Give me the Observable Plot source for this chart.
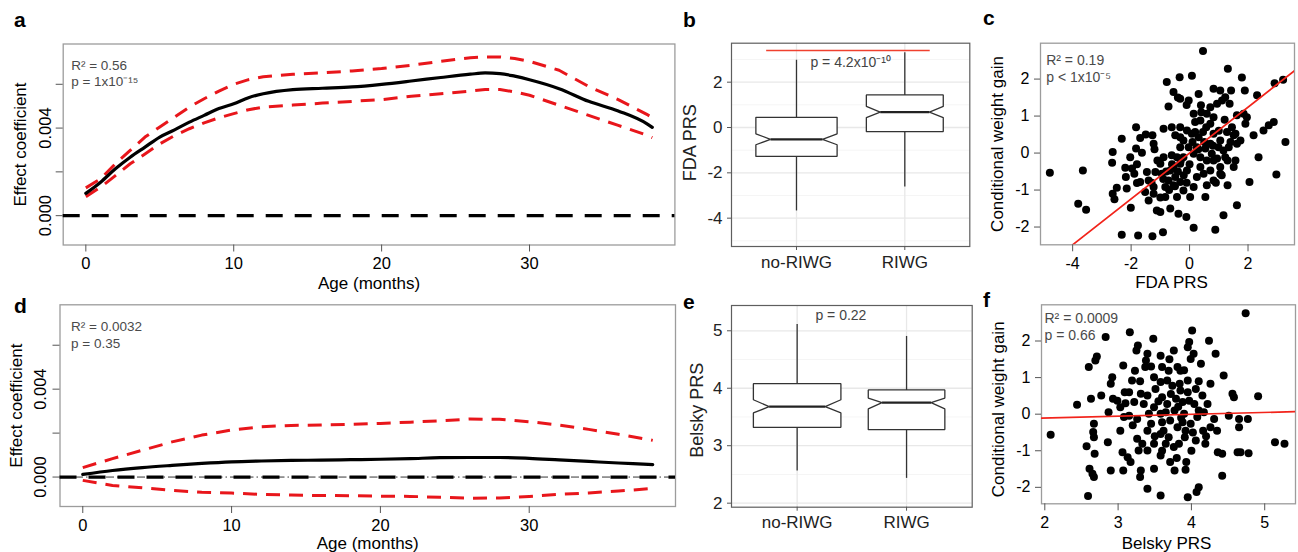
<!DOCTYPE html>
<html><head><meta charset="utf-8">
<script src="https://cdn.jsdelivr.net/npm/d3@7"></script>
<script src="https://cdn.jsdelivr.net/npm/@observablehq/plot@0.6"></script>
<style>
html,body{margin:0;padding:0;background:#fff;}
#fig{position:relative;width:1298px;height:552px;overflow:hidden;}
#fig svg{position:absolute;left:0;top:0;}
</style></head><body><div id="fig"></div>
<script>
// ---------- Panel a: FDA PRS effect over age ----------
const ageA   = [0,1,2,3,4,5,6,7,8,9,10,11,12,14,16,18,20,22,24,26,27,28,29,30,32,34,36,38,38.3];
const fitA   = [0.00102,0.00153,0.00214,0.00267,0.00313,0.00359,0.00392,0.00427,0.00458,0.00489,0.00511,0.00539,0.00557,0.00576,0.00582,0.00588,0.00600,0.00615,0.00631,0.00646,0.00652,0.00649,0.00637,0.00621,0.00580,0.00522,0.00478,0.00417,0.00403];
const upperA = [0.00127,0.00168,0.00237,0.00298,0.00359,0.00405,0.00450,0.00496,0.00534,0.00569,0.00600,0.00621,0.00634,0.00646,0.00652,0.00661,0.00672,0.00687,0.00705,0.00721,0.00725,0.00725,0.00718,0.00705,0.00664,0.00590,0.00530,0.00460,0.00448];
const lowerA = [0.00087,0.00130,0.00183,0.00237,0.00282,0.00328,0.00366,0.00397,0.00424,0.00447,0.00466,0.00484,0.00496,0.00505,0.00514,0.00522,0.00530,0.00545,0.00557,0.00569,0.00576,0.00576,0.00565,0.00550,0.00504,0.00458,0.00412,0.00366,0.00356];
const statsA = ["R² = 0.56", "p = 1x10⁻¹⁵"];

// ---------- Panel d: Belsky PRS effect over age ----------
const ageD   = [0,2,4,6,8,10,12,14,16,18,20,22,24,26,28,30,32,34,36,38,38.3];
const fitD   = [0.00012,0.00030,0.00043,0.00053,0.00062,0.00069,0.00073,0.00076,0.00077,0.00079,0.00081,0.00084,0.00088,0.00089,0.00089,0.00085,0.00078,0.00071,0.00064,0.00058,0.00057];
const upperD = [0.00043,0.00084,0.00122,0.00160,0.00191,0.00214,0.00229,0.00235,0.00237,0.00240,0.00244,0.00250,0.00256,0.00264,0.00263,0.00252,0.00237,0.00217,0.00195,0.00171,0.00167];
const lowerD = [-0.00015,-0.00038,-0.00049,-0.00061,-0.00069,-0.00073,-0.00079,-0.00082,-0.00084,-0.00085,-0.00087,-0.00088,-0.00092,-0.00096,-0.00095,-0.00088,-0.00079,-0.00072,-0.00064,-0.00053,-0.00052];
const statsD = ["R² = 0.0032", "p = 0.35"];

const ageDomain = [-1.53, 39.83];
const effDomain = [-0.00134, 0.00784];
const ageTicks = [0, 10, 20, 30];
const effTicks = [0, 0.002, 0.004, 0.006];
const effLabels = [0, 0.004];

// ---------- Panels b, e: box plots ----------
const groups = ["no-RIWG", "RIWG"];
const fdaMin = [-3.66, -2.60];
const fdaQ1  = [-1.27, -0.18];
const fdaNotchLo = [-0.76, 0.44];
const fdaMed = [-0.52, 0.68];
const fdaNotchHi = [-0.28, 0.93];
const fdaQ3  = [0.45, 1.44];
const fdaMax = [2.99, 3.32];
const fdaSigX = [0.72, 2.23];
const fdaSigY = 3.40;
const fdaP = "p = 4.2x10⁻¹⁰";

const belMin = [2.57, 2.44];
const belQ1  = [3.32, 3.28];
const belNotchLo = [3.57, 3.64];
const belMed = [3.68, 3.75];
const belNotchHi = [3.80, 3.83];
const belQ3  = [4.08, 3.97];
const belMax = [5.12, 4.91];
const belP = "p = 0.22";

// ---------- Panel c: FDA PRS vs conditional weight gain ----------
const cX = [-4.78,-3.65,-3.81,-3.54,-2.32,-2.63,-2.65,-2.63,-2.49,-2.57,
-2.32,-2.18,-2.01,-1.83,-1.83,-2.03,-1.97,-1.89,-1.69,-1.63,
-2.15,-1.80,-1.76,-1.46,-1.40,-1.27,-0.91,-1.27,-1.23,-0.89,
-0.78,-0.72,-0.61,-0.32,-0.49,-0.32,-0.89,-1.00,-0.95,-1.40,
-1.23,-1.12,-1.00,-0.66,-0.38,-0.11,0.14,-0.34,0.08,0.46,
-0.55,-0.32,-0.03,0.31,0.14,0.19,0.39,0.59,0.82,1.05,
1.11,1.22,1.31,1.42,1.37,1.62,1.79,1.89,1.85,1.96,
1.91,2.31,2.19,2.36,2.05,2.53,2.71,2.88,2.91,3.20,
3.28,2.97,1.62,1.16,0.88,1.30,1.51,1.57,1.62,1.51,
1.28,1.05,0.82,0.71,0.57,0.46,0.31,0.25,0.37,0.59,
0.76,0.94,1.16,1.34,1.05,0.82,0.59,0.48,0.54,0.25,
0.37,-0.09,-0.21,-0.43,-0.61,-0.55,-0.32,-0.72,-0.55,-0.32,
-0.66,-0.83,-0.43,-0.21,-0.03,-0.21,-0.09,0.08,0.14,-0.32,
-1.23,-1.69,-1.52,-1.17,-0.83,-0.49,0.02,0.14,0.71,0.82,
1.05,1.22,0.99,0.71,0.54,0.19,0.37,0.82,0.94,0.71,
1.45,1.57,1.74,
-0.8,-0.6,-0.4,-0.2,0,-1.1,-0.9,-0.5,-0.3,-0.7,
-1.3,-1.0,-0.1,0.1,0.3,0.5,0.8,1.0,1.2,0.4,
-0.4,-0.1,1.3,1.1,0.9,1.4,-1.5,-1.8,-2.2,-1.2];
const cY = [-0.53,-0.47,-1.37,-1.53,0.39,0.03,-0.26,-1.10,-0.94,-1.25,
-2.21,-0.65,-1.48,0.70,0.12,-0.11,-0.42,-0.56,0.41,0.01,
-0.96,-0.81,-2.23,-0.51,-0.74,-2.25,-2.14,0.48,0.25,0.66,
1.92,1.26,0.70,0.70,0.48,0.43,-0.11,-0.29,-0.56,-1.28,
-1.10,-1.55,-1.59,-1.50,-1.64,-1.73,-2.02,2.05,2.09,2.76,
1.65,1.47,1.42,1.60,1.06,0.84,1.29,1.06,1.74,1.69,
1.42,1.51,2.28,1.69,1.33,1.02,2.04,1.69,1.06,0.97,
0.79,1.56,0.48,-0.11,-0.78,0.61,0.75,0.84,1.89,1.98,
0.30,-0.58,-1.41,-1.68,-2.07,-0.87,-0.38,-0.20,0.25,0.48,
0.57,0.34,0.52,0.79,0.70,0.57,0.43,0.16,-0.11,-0.20,
-0.02,-0.15,0.07,0.16,-0.56,-0.74,-0.87,-0.56,-1.19,-0.65,
-0.38,-0.47,-0.11,-0.11,-0.06,-0.38,-0.29,-0.74,-0.87,-0.78,
-0.47,-1.19,-1.19,-1.01,0.16,0.34,0.61,0.52,-0.02,0.16,
-0.92,-0.78,-1.05,-0.51,-0.92,-0.65,-1.19,-0.92,-0.47,-0.20,
-0.38,-0.11,0.16,0.25,0.12,0.57,0.88,0.97,1.33,1.24,
0.70,0.52,0.34,
-0.5,-0.3,-0.5,-0.6,-0.3,-0.2,-0.7,-0.9,-0.2,-1.0,
-0.8,-1.2,-0.8,0.3,0.1,0.3,0.2,0.6,0.9,1.1,
1.5,1.3,-0.2,-0.6,-0.8,0.3,0.5,-0.3,-0.4,0.1];
const cFit = [0.0, 0.62];           // intercept, slope
const statsC = ["R² = 0.19", "p < 1x10⁻⁵"];

// ---------- Panel f: Belsky PRS vs conditional weight gain ----------
const fX = [2.08,2.44,2.59,2.60,2.69,2.71,2.63,2.67,2.66,2.67,
2.57,2.68,2.61,2.65,2.67,2.77,2.86,2.87,2.83,2.90,
2.92,2.93,2.99,2.90,3.07,3.06,3.07,3.09,3.16,3.19,
3.15,3.15,3.13,3.17,3.03,3.03,3.23,3.25,3.27,3.26,
3.26,3.28,3.31,3.30,3.37,3.38,3.40,3.40,3.42,3.40,
3.48,3.49,3.51,3.49,3.49,3.49,3.58,3.60,3.58,3.60,
3.58,3.60,3.58,3.58,3.58,3.67,3.69,3.67,3.71,3.69,
3.71,3.76,3.81,3.79,3.77,3.81,3.77,3.84,3.85,3.88,
3.90,3.88,3.91,3.93,3.92,3.95,3.97,3.99,3.95,4.01,
4.03,4.06,4.04,4.08,4.06,4.07,4.10,4.13,4.15,4.17,
4.16,4.19,4.24,4.26,4.26,4.33,4.31,4.35,4.36,4.42,
4.44,4.42,4.51,4.56,4.58,4.63,4.65,4.65,4.67,4.74,
4.77,4.78,4.91,5.14,5.27,3.40,3.08,3.22,3.31,3.35,
3.45,3.33,3.40,3.65,3.83,3.99,3.97,3.95,3.74,3.85,
4.22,4.10,3.92,3.76,
3.55,3.62,3.72,3.86,3.95,4.02,3.5,3.3,3.7,3.9,
4.1,3.6,3.8,4.0,3.2,3.1,3.45,3.65,3.82,4.2];
const fY = [-0.56,0.26,-2.24,1.29,1.47,1.58,0.42,-0.26,-0.49,-0.63,
-0.88,-1.08,-1.49,-1.63,-1.72,0.51,-0.77,0.05,2.11,0.83,
1.01,0.42,0.37,-1.54,1.33,-1.04,-1.54,0.60,2.24,0.92,
0.60,-0.04,-1.18,-1.31,-0.45,0.19,1.19,1.74,1.88,-0.13,
-0.67,-0.99,-1.54,-1.72,1.29,1.47,0.51,-0.45,0.01,-2.04,
2.06,1.01,0.69,0.19,-0.81,-1.49,1.60,1.29,0.88,0.46,
0.01,-0.22,-0.54,-1.13,-2.22,0.92,1.19,0.28,-0.17,-0.63,
-1.31,1.74,1.29,0.42,0.10,-0.36,-1.54,0.83,0.65,0.33,
0.01,-0.22,-0.63,-1.31,-1.52,1.83,1.97,1.51,-2.27,2.29,
1.65,0.69,0.28,-0.08,-0.72,-2.13,-2.00,1.38,0.51,0.05,
-0.45,-0.81,2.01,0.83,-0.36,1.65,-0.13,-0.45,-1.04,-1.08,
1.06,-1.68,-0.04,0.56,0.46,-1.04,-0.36,-0.13,-1.04,2.76,
-0.13,-1.07,0.49,-0.77,-0.81,1.65,-0.08,0.33,0.56,0.28,
-0.26,-0.81,-0.99,-0.81,-0.81,-0.26,0.37,0.92,0.78,1.19,
0.28,0.10,-0.45,-0.90,
0.35,-0.45,0.55,-0.1,0.6,-0.5,-0.6,0.9,1.5,1.2,
0.9,-1.0,-1.2,-1.0,-0.3,0.3,1.3,0.05,0.2,-0.6];
const fFit = [-0.212, 0.052];       // intercept, slope
const statsF = ["R² = 0.0009", "p = 0.66"];

const panelLetters = ["a", "b", "c", "d", "e", "f"];

// ================= drawing =================
const W = 1298, H = 552;
const FONT = '"Liberation Sans", Arial, Helvetica, sans-serif';
const RED = "#e8161b";
const fig = document.getElementById("fig");

function frameOpts(L, T, R, B) {
  return {width: W, height: H, marginLeft: L, marginTop: T, marginRight: W - R, marginBottom: H - B,
    style: {background: "transparent", fontFamily: FONT, overflow: "visible"}};
}
const txt = d => d;
const MID = {textAnchor: "middle", lineAnchor: "middle"};

function curvePanel(box, ages, fit, lo, hi, stats, o) {
  const rows = ages.map((m, i) => ({m, fit: fit[i], lo: lo[i], hi: hi[i]}));
  const marks = [
    Plot.frame({stroke: "#9c9c9c", strokeWidth: 1.3}),
    o.dotdash ? Plot.ruleY([0], {stroke: "#000", strokeWidth: 0.8, strokeDasharray: "8,3,1.5,3"}) : null,
    Plot.ruleY([0], {stroke: "#000", strokeWidth: 3.3, strokeDasharray: "17,12"}),
    Plot.line(rows, {x: "m", y: "hi", stroke: RED, strokeWidth: 3, strokeDasharray: "14,9", strokeLinecap: "butt"}),
    Plot.line(rows, {x: "m", y: "lo", stroke: RED, strokeWidth: 3, strokeDasharray: "14,9", strokeLinecap: "butt"}),
    Plot.line(rows, {x: "m", y: "fit", stroke: "#000", strokeWidth: 3.2, curve: "monotone-x"}),
    Plot.axisX({ticks: ageTicks, tickSize: 7, tickPadding: o.xPad, fontSize: 16.5, label: null, stroke: "#555"}),
    Plot.axisY({ticks: effTicks, tickSize: 7, tickFormat: () => "", label: null, stroke: "#555"}),
    Plot.text(effLabels, {y: d => d, text: d => d.toFixed(3), frameAnchor: "left", rotate: -90, dx: o.labDx, fontSize: 16.5, ...MID}),
    Plot.text(["Effect coefficient"], {text: txt, frameAnchor: "left", rotate: -90, dx: o.titleDx, fontSize: 17, ...MID}),
    Plot.text(["Age (months)"], {text: txt, frameAnchor: "bottom", dy: o.xTitleDy, fontSize: 17, ...MID}),
    Plot.text([stats[0]], {text: txt, frameAnchor: "top-left", textAnchor: "start", lineAnchor: "middle", dx: o.statDx, dy: o.statDy[0], fontSize: 13.5, fill: "#4a4a4a"}),
    Plot.text([stats[1]], {text: txt, frameAnchor: "top-left", textAnchor: "start", lineAnchor: "middle", dx: o.statDx, dy: o.statDy[1], fontSize: 13.5, fill: "#4a4a4a"})
  ].filter(Boolean);
  return Plot.plot({...frameOpts(...box), x: {domain: ageDomain}, y: {domain: effDomain}, marks});
}

function boxPanel(box, st, o) {
  const ratio = 0.64;
  const poly = [];
  groups.forEach((g, i) => {
    const x = i + 1, w = o.widths[i] / 2, n = o.widths[i] * ratio / 2;
    [[x - w, st.q1[i]], [x + w, st.q1[i]], [x + w, st.lo[i]], [x + n, st.med[i]], [x + w, st.hi[i]],
     [x + w, st.q3[i]], [x - w, st.q3[i]], [x - w, st.hi[i]], [x - n, st.med[i]], [x - w, st.lo[i]], [x - w, st.q1[i]]]
      .forEach(([px, py]) => poly.push({g, x: px, y: py}));
  });
  const marks = [
    Plot.ruleY(o.minor, {stroke: "#f3f3f3", strokeWidth: 0.8}),
    Plot.ruleY(o.yTicks, {stroke: "#e8e8e8", strokeWidth: 1.3}),
    Plot.ruleX([1, 2], {stroke: "#e8e8e8", strokeWidth: 1.3}),
    Plot.link(groups, {x1: (d, i) => i + 1, x2: (d, i) => i + 1, y1: (d, i) => st.q3[i], y2: (d, i) => st.max[i], stroke: "#333", strokeWidth: 1.3}),
    Plot.link(groups, {x1: (d, i) => i + 1, x2: (d, i) => i + 1, y1: (d, i) => st.q1[i], y2: (d, i) => st.min[i], stroke: "#333", strokeWidth: 1.3}),
    Plot.line(poly, {x: "x", y: "y", z: "g", fill: "white", stroke: "#333", strokeWidth: 1.3, strokeLinejoin: "miter", curve: "linear"}),
    Plot.link(groups, {x1: (d, i) => i + 1 - o.widths[i] * ratio / 2, x2: (d, i) => i + 1 + o.widths[i] * ratio / 2,
      y1: (d, i) => st.med[i], y2: (d, i) => st.med[i], stroke: "#222", strokeWidth: 2.3}),
    Plot.frame({stroke: "#5e5e5e", strokeWidth: 1.2}),
    o.sig ? Plot.link([o.sig], {x1: d => d.x[0], x2: d => d.x[1], y1: d => d.y, y2: d => d.y, stroke: "#f0402e", strokeWidth: 1.6}) : null,
    Plot.text([o.p], {text: txt, x: o.pX, y: o.pY, fontSize: 14, fill: "#444", ...MID}),
    Plot.axisY({ticks: o.yTicks, tickSize: 4, tickPadding: 5, tickFormat: d => String(d), fontSize: 17, label: null, stroke: "#555", fill: "#222"}),
    Plot.axisX({ticks: [1, 2], tickSize: 4, tickPadding: 5, tickFormat: d => groups[d - 1], fontSize: 17, label: null, stroke: "#555", fill: "#222"}),
    Plot.text([o.title], {text: txt, frameAnchor: "left", rotate: -90, dx: o.titleDx, dy: o.titleDy, fontSize: 18, fill: "#222", ...MID})
  ].filter(Boolean);
  return Plot.plot({...frameOpts(...box), x: {domain: [0.4, 2.6]}, y: {domain: o.yDomain}, marks});
}

function scatterPanel(box, xs, ys, fitAB, stats, o) {
  const idx = d3.range(Math.min(xs.length, ys.length));
  const fitRows = o.xDomain.map(x => ({x, y: fitAB[0] + fitAB[1] * x}));
  const marks = [
    Plot.frame({stroke: "#9c9c9c", strokeWidth: 1.3}),
    Plot.dot(idx, {x: i => xs[i], y: i => ys[i], r: 4, fill: "#000", stroke: "none"}),
    Plot.line(fitRows, {x: "x", y: "y", stroke: "#f2241b", strokeWidth: 1.7, clip: true}),
    Plot.axisX({ticks: o.xTicks, tickSize: 7, tickPadding: 6, tickFormat: d => String(d), fontSize: 16, label: null, stroke: "#555"}),
    Plot.axisY({ticks: [-2, -1, 0, 1, 2], tickSize: 6, tickPadding: 5, tickFormat: d => String(d), fontSize: 16, label: null, stroke: "#555"}),
    Plot.text(["Conditional weight gain"], {text: txt, frameAnchor: "left", rotate: -90, dx: o.yTitleDx, dy: o.yTitleDy, fontSize: 17, ...MID}),
    Plot.text([o.xTitle], {text: txt, frameAnchor: "bottom", dx: o.xTitleDx, dy: o.xTitleDy, fontSize: 17, ...MID}),
    Plot.text([stats[0]], {text: txt, frameAnchor: "top-left", textAnchor: "start", lineAnchor: "middle", dx: o.statDx, dy: o.statDy[0], fontSize: 14, fill: "#4a4a4a"}),
    Plot.text([stats[1]], {text: txt, frameAnchor: "top-left", textAnchor: "start", lineAnchor: "middle", dx: o.statDx, dy: o.statDy[1], fontSize: 14, fill: "#4a4a4a"})
  ];
  return Plot.plot({...frameOpts(...box), x: {domain: o.xDomain}, y: {domain: o.yDomain}, marks});
}

fig.append(curvePanel([62.7, 43.5, 674.4, 244.5], ageA, fitA, lowerA, upperA, statsA,
  {xPad: 5.5, labDx: -17.5, titleDx: -42.5, xTitleDy: 38.5, statDx: 8, statDy: [21.2, 37.5]}));
fig.append(curvePanel([59.5, 304.3, 675, 506], ageD, fitD, lowerD, upperD, statsD,
  {dotdash: true, xPad: 6, labDx: -19.5, titleDx: -43.5, xTitleDy: 37, statDx: 11, statDy: [21.4, 38.4]}));

fig.append(boxPanel([731, 42.7, 969.3, 246],
  {min: fdaMin, q1: fdaQ1, lo: fdaNotchLo, med: fdaMed, hi: fdaNotchHi, q3: fdaQ3, max: fdaMax},
  {widths: [0.75, 0.71], yDomain: [-5.25, 3.72], yTicks: [-4, -2, 0, 2], minor: [-5, -3, -1, 1, 3],
   sig: {x: fdaSigX, y: fdaSigY}, p: fdaP, pX: 1.5, pY: 2.88, title: "FDA PRS", titleDx: -41, titleDy: -2}));
fig.append(boxPanel([731, 305, 971.7, 506.7],
  {min: belMin, q1: belQ1, lo: belNotchLo, med: belMed, hi: belNotchHi, q3: belQ3, max: belMax},
  {widths: [0.80, 0.70], yDomain: [1.93, 5.44], yTicks: [2, 3, 4, 5], minor: [2.5, 3.5, 4.5],
   sig: null, p: belP, pX: 1.4, pY: 5.27, title: "Belsky PRS", titleDx: -34, titleDy: 4}));

fig.append(scatterPanel([1040, 42.7, 1294, 244.3], cX, cY, cFit, statsC,
  {xDomain: [-5.1, 3.59], yDomain: [-2.48, 2.97], xTicks: [-4, -2, 0, 2], xTitle: "FDA PRS",
   yTitleDx: -43.3, yTitleDy: 0, xTitleDx: 4, xTitleDy: 37.4, statDx: 5.7, statDy: [17.3, 34.6]}));
fig.append(scatterPanel([1041, 304.3, 1295, 503.3], fX, fY, fFit, statsF,
  {xDomain: [1.955, 5.42], yDomain: [-2.45, 2.99], xTicks: [2, 3, 4, 5], xTitle: "Belsky PRS",
   yTitleDx: -43, yTitleDy: 5, xTitleDx: -2, xTitleDy: 40, statDx: 3, statDy: [13.7, 30.7]}));

// panel letters
const letterPos = [[14, 27], [683, 27], [983, 25], [14, 313], [683, 309], [983, 307]];
const ov = d3.create("svg").attr("width", W).attr("height", H).style("font-family", FONT);
ov.selectAll("text").data(panelLetters).join("text")
  .attr("x", (d, i) => letterPos[i][0]).attr("y", (d, i) => letterPos[i][1])
  .attr("font-size", 21).attr("font-weight", "bold").text(d => d);
fig.append(ov.node());
</script></body></html>
